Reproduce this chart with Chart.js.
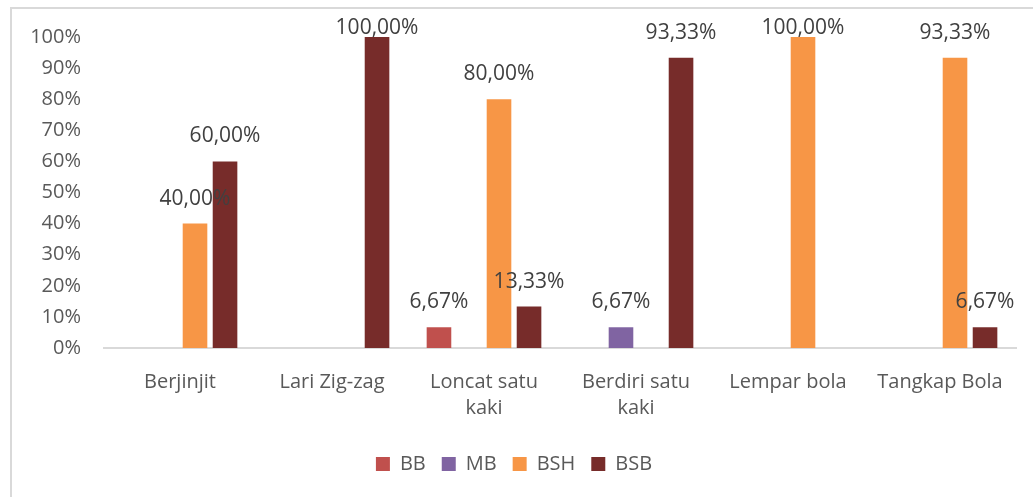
<!DOCTYPE html>
<html>
<head>
<meta charset="utf-8">
<script src="https://cdn.jsdelivr.net/npm/chart.js@4"></script>
<style>
    body { margin: 0; background: #ffffff; }
    #wrap {
        position: absolute;
        left: 10px;
        top: 7px;
        width: 1021px;
        height: 488px;
        border-top: 2px solid #d9d9d9;
        border-left: 2px solid #d9d9d9;
    }
</style>
</head>
<body>
<div id="wrap"><canvas id="chart" width="1021" height="488"></canvas></div>
<script>
// Chart data
const categories = ["Berjinjit", "Lari Zig-zag", ["Loncat satu", "kaki"], ["Berdiri satu", "kaki"], "Lempar bola", "Tangkap Bola"];
const seriesNames = ["BB", "MB", "BSH", "BSB"];
const bbValues = [0, 0, 6.67, 0, 0, 0];
const mbValues = [0, 0, 0, 6.67, 0, 0];
const bshValues = [40, 0, 80, 0, 100, 93.33];
const bsbValues = [60, 100, 13.33, 93.33, 0, 6.67];
const yTicks = [0, 10, 20, 30, 40, 50, 60, 70, 80, 90, 100];

const colors = ["#c0504d", "#8064a2", "#f79646", "#772c2a"];
const fontFamily = "'Open Sans', Lato, sans-serif";

// Draw value labels above each non-zero bar
const valueLabels = {
    id: "valueLabels",
    afterDatasetsDraw(chart) {
        const ctx = chart.ctx;
        ctx.save();
        ctx.font = "21px " + fontFamily;
        ctx.fillStyle = "#404040";
        ctx.textAlign = "center";
        ctx.textBaseline = "middle";
        chart.data.datasets.forEach((ds, i) => {
            const meta = chart.getDatasetMeta(i);
            meta.data.forEach((bar, j) => {
                const v = ds.data[j];
                if (!v) return;
                const y = Math.max(bar.y - 25, 19);
                ctx.fillText(v.toFixed(2).replace(".", ",") + "%", bar.x, y);
            });
        });
        ctx.restore();
    }
};

const seriesValues = [bbValues, mbValues, bshValues, bsbValues];

new Chart(document.getElementById("chart"), {
    type: "bar",
    data: {
        labels: categories,
        datasets: seriesNames.map((name, i) => ({
            label: name,
            data: seriesValues[i],
            backgroundColor: colors[i],
            borderWidth: 0,
            categoryPercentage: 0.79,
            barPercentage: 0.82
        }))
    },
    options: {
        responsive: false,
        animation: false,
        layout: { padding: { top: 28, right: 17, left: 0, bottom: 13 } },
        plugins: {
            tooltip: { enabled: false },
            legend: {
                position: "bottom",
                labels: {
                    boxWidth: 14,
                    boxHeight: 14,
                    padding: 16,
                    color: "#595959",
                    font: { family: fontFamily, size: 20 }
                }
            }
        },
        scales: {
            x: {
                grid: { display: false },
                border: { display: true, color: "#d9d9d9", width: 2 },
                ticks: {
                    color: "#595959",
                    padding: 13,
                    maxRotation: 0,
                    autoSkip: false,
                    font: { family: fontFamily, size: 20, lineHeight: 1.3 }
                },
                afterFit(scale) { scale.height = 90; }
            },
            y: {
                min: 0,
                max: 100,
                grid: { display: false, drawTicks: false },
                border: { display: false },
                afterBuildTicks(scale) { scale.ticks = yTicks.map(v => ({ value: v })); },
                ticks: {
                    color: "#595959",
                    padding: 23,
                    font: { family: fontFamily, size: 20 },
                    callback: v => v + "%"
                },
                afterFit(scale) {
                    scale.width = 92;
                    scale.paddingTop = 0;
                    scale.paddingBottom = 0;
                }
            }
        }
    },
    plugins: [valueLabels]
});
</script>
</body>
</html>
